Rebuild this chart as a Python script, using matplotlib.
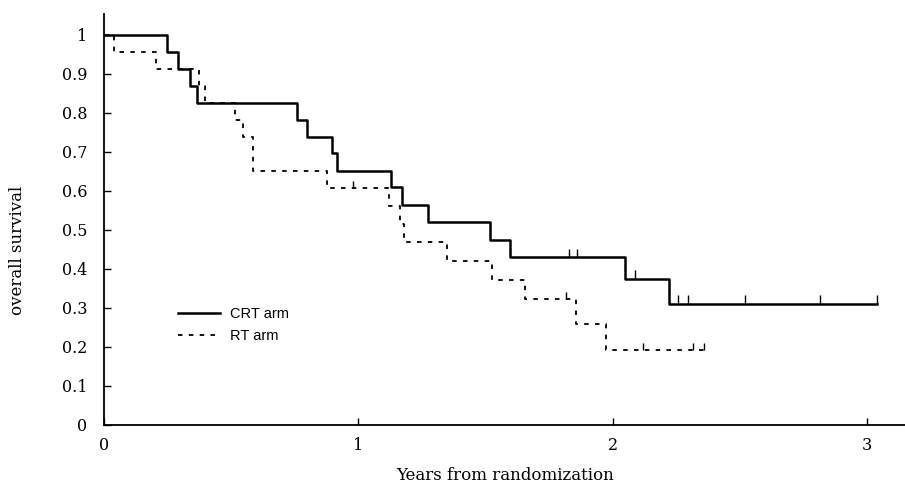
import matplotlib.pyplot as plt

# CRT arm (solid) - step times (years) and survival after each step
crt_t = [0, 0.248, 0.29, 0.336, 0.367, 0.76, 0.80, 0.898, 0.917, 1.13, 1.17, 1.275, 1.516, 1.595, 2.05, 2.22, 3.04]
crt_s = [1.0, 0.957, 0.913, 0.870, 0.826, 0.783, 0.739, 0.696, 0.652, 0.609, 0.565, 0.520, 0.475, 0.430, 0.375, 0.310, 0.310]
crt_cens_t = [1.83, 1.86, 2.09, 2.256, 2.295, 2.52, 2.815, 3.04]
crt_cens_s = [0.430, 0.430, 0.375, 0.310, 0.310, 0.310, 0.310, 0.310]

# RT arm (dashed)
rt_t = [0, 0.04, 0.205, 0.375, 0.395, 0.516, 0.545, 0.587, 0.877, 1.12, 1.165, 1.18, 1.35, 1.527, 1.655, 1.855, 1.975, 2.36]
rt_s = [1.0, 0.957, 0.913, 0.870, 0.826, 0.783, 0.739, 0.652, 0.607, 0.560, 0.515, 0.470, 0.420, 0.372, 0.323, 0.259, 0.192, 0.192]
rt_cens_t = [0.98, 1.815, 2.12, 2.315, 2.36]
rt_cens_s = [0.607, 0.323, 0.192, 0.192, 0.192]

plt.rcParams['font.family'] = 'DejaVu Serif'
fig = plt.figure(figsize=(9.05, 4.94), dpi=100)
ax = fig.add_axes([0.115, 0.14, 0.885, 0.832])

ax.step(crt_t, crt_s, where='post', color='black', linewidth=1.8, label='CRT arm')
ax.step(rt_t, rt_s, where='post', color='black', linewidth=1.3,
        linestyle=(0, (2.5, 3.5)), label='RT arm')
ax.vlines(crt_cens_t, crt_cens_s, [s + 0.022 for s in crt_cens_s], color='black', linewidth=1.0)
ax.vlines(rt_cens_t, rt_cens_s, [s + 0.018 for s in rt_cens_s], color='black', linewidth=1.0)

ax.set_xlim(0, 3.15)
ax.set_ylim(0, 1.054)
ax.set_xticks([0, 1, 2, 3])
ax.set_xticklabels(['0', '1', '2', '3'])
ax.set_yticks([0, 0.1, 0.2, 0.3, 0.4, 0.5, 0.6, 0.7, 0.8, 0.9, 1])
ax.set_yticklabels(['0', '0.1', '0.2', '0.3', '0.4', '0.5', '0.6', '0.7', '0.8', '0.9', '1'])
ax.tick_params(direction='in', length=5, width=1, labelsize=11.5)
ax.tick_params(axis='y', pad=12)
ax.tick_params(axis='x', pad=9)
ax.spines['top'].set_visible(False)
ax.spines['right'].set_visible(False)
ax.spines['left'].set_linewidth(1.3)
ax.spines['bottom'].set_linewidth(1.3)

ax.set_xlabel('Years from randomization', fontsize=12, labelpad=9)
ax.set_ylabel('overall survival', fontsize=12)
ax.yaxis.set_label_coords(-0.098, 0.425)

leg = ax.legend(loc='center left', bbox_to_anchor=(0.092, 0.242), frameon=False,
                prop={'family': 'Liberation Sans', 'size': 10.5}, handlelength=2.9,
                handletextpad=0.7, labelspacing=0.55, borderpad=0, borderaxespad=0)

fig.savefig('out.png', dpi=100)
